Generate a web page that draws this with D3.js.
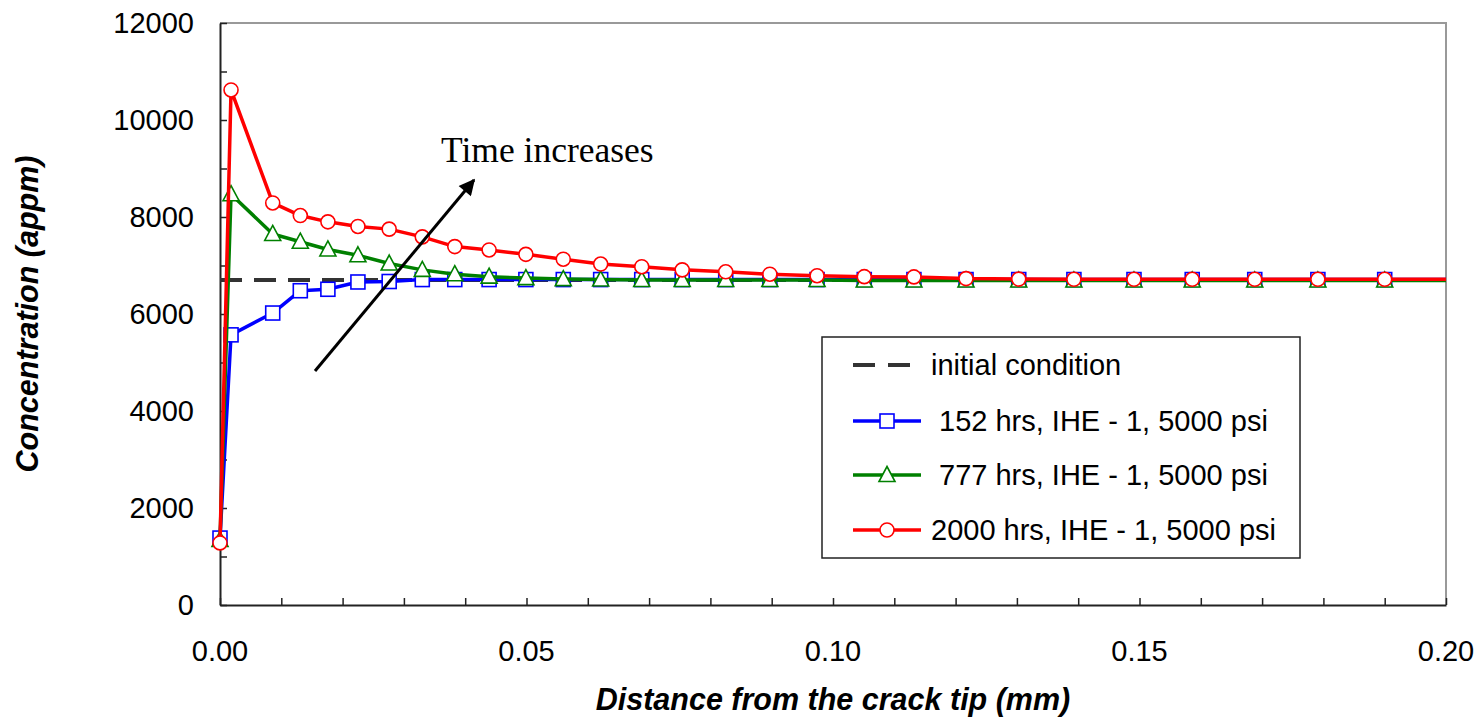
<!doctype html>
<meta charset="utf-8">
<title>Concentration vs distance</title>
<style>
body { margin: 0; background: #fff; }
svg { font-family: "Liberation Sans", Arial, sans-serif; }
.tick-label { font-size: 29px; fill: #000; }
.axis-title { font-size: 30.5px; font-weight: bold; font-style: italic; }
.legend-text { font-size: 29px; }
</style>
<script src="https://cdnjs.cloudflare.com/ajax/libs/d3/7.8.5/d3.min.js"></script>
<body>
<svg id="chart" width="1484" height="717"></svg>
<script>
// distance from crack tip (mm), shared by all three series
var distance = [0, 0.0018, 0.0086, 0.0131, 0.0176, 0.0225, 0.0276, 0.0330, 0.0383, 0.0439,
  0.0499, 0.0560, 0.0621, 0.0688, 0.0754, 0.0825, 0.0897, 0.0974, 0.1051, 0.1132,
  0.1217, 0.1303, 0.1393, 0.1491, 0.1586, 0.1688, 0.1791, 0.1900, 0.2000];

var conc152 = [1380, 5570, 6020, 6480, 6510, 6660, 6670, 6710, 6710, 6710,
  6710, 6710, 6710, 6710, 6710, 6710, 6710, 6710, 6710, 6710,
  6710, 6710, 6710, 6710, 6710, 6710, 6710, 6710, 6710];

var conc777 = [1340, 8470, 7650, 7490, 7330, 7210, 7040, 6910, 6820, 6770,
  6740, 6720, 6710, 6700, 6700, 6700, 6700, 6700, 6690, 6690,
  6690, 6690, 6690, 6690, 6690, 6690, 6690, 6690, 6690];

var conc2000 = [1280, 10620, 8290, 8030, 7900, 7805, 7750, 7590, 7390, 7320,
  7230, 7130, 7030, 6975, 6910, 6870, 6820, 6790, 6770, 6765,
  6730, 6720, 6715, 6715, 6715, 6715, 6715, 6715, 6715];

var initialCondition = 6700;

var seriesNames = ["152 hrs, IHE - 1, 5000 psi", "777 hrs, IHE - 1, 5000 psi", "2000 hrs, IHE - 1, 5000 psi"];
var seriesColors = ["#0000ff", "#008000", "#ff0000"];
var seriesMarkers = ["square", "triangle", "circle"];
var seriesValues = [conc152, conc777, conc2000];

var xTicks = [0, 0.05, 0.10, 0.15, 0.20];
var yTicks = [0, 2000, 4000, 6000, 8000, 10000, 12000];

var svg = d3.select("#chart");
var plotLeft = 220, plotRight = 1446, plotTop = 23, plotBottom = 605;

var x = d3.scaleLinear().domain([0, 0.2]).range([plotLeft, plotRight]);
var y = d3.scaleLinear().domain([0, 12000]).range([plotBottom, plotTop]);

// frame (grey top/right)
svg.append("path")
  .attr("d", "M" + plotLeft + "," + plotTop + "H" + plotRight + "V" + plotBottom)
  .attr("fill", "none").attr("stroke", "#999").attr("stroke-width", 2);

// x axis, ticks pointing up
var xAxis = svg.append("g").attr("transform", "translate(0," + plotBottom + ")")
  .call(d3.axisBottom(x).tickValues(d3.range(0, 21).map(function(i) { return i / 100; }))
    .tickSize(-7).tickSizeOuter(0).tickFormat(""));
xAxis.selectAll(".tick line").attr("stroke", "#222").attr("stroke-width", 1.5);
xAxis.select(".domain").attr("stroke", "#222").attr("stroke-width", 2);

svg.append("g").selectAll("text").data(xTicks).join("text")
  .attr("class", "tick-label")
  .attr("x", function(d) { return x(d); })
  .attr("y", 661)
  .attr("text-anchor", "middle")
  .text(function(d) { return d3.format(".2f")(d); });

// y axis, ticks pointing right
var yAxis = svg.append("g").attr("transform", "translate(" + plotLeft + ",0)")
  .call(d3.axisLeft(y).tickValues(d3.range(0, 13000, 1000))
    .tickSize(-7).tickSizeOuter(0).tickFormat(""));
yAxis.selectAll(".tick line").attr("stroke", "#222").attr("stroke-width", 1.5);
yAxis.select(".domain").attr("stroke", "#222").attr("stroke-width", 2);

svg.append("g").selectAll("text").data(yTicks).join("text")
  .attr("class", "tick-label")
  .attr("x", 194)
  .attr("y", function(d) { return y(d); })
  .attr("dy", "0.36em")
  .attr("text-anchor", "end")
  .text(function(d) { return d; });

// axis titles
svg.append("text").attr("class", "axis-title")
  .attr("x", (plotLeft + plotRight) / 2).attr("y", 710)
  .attr("text-anchor", "middle")
  .text("Distance from the crack tip (mm)");

svg.append("text").attr("class", "axis-title")
  .attr("transform", "translate(38," + ((plotTop + plotBottom) / 2) + ") rotate(-90)")
  .attr("text-anchor", "middle")
  .text("Concentration (appm)");

// initial condition
svg.append("line")
  .attr("x1", x(0)).attr("x2", x(0.2))
  .attr("y1", y(initialCondition)).attr("y2", y(initialCondition))
  .attr("stroke", "#333").attr("stroke-width", 4).attr("stroke-dasharray", "22,12");

function drawMarker(g, type, color, cx, cy) {
  if (type === "square") {
    g.append("rect").attr("x", cx - 7).attr("y", cy - 7).attr("width", 14).attr("height", 14)
      .attr("fill", "#fff").attr("stroke", color).attr("stroke-width", 1.6);
  } else if (type === "triangle") {
    g.append("path").attr("d", "M" + cx + "," + (cy - 8.5) + "L" + (cx + 8) + "," + (cy + 6.5) + "L" + (cx - 8) + "," + (cy + 6.5) + "Z")
      .attr("fill", "#fff").attr("stroke", color).attr("stroke-width", 1.6);
  } else {
    g.append("circle").attr("cx", cx).attr("cy", cy).attr("r", 7)
      .attr("fill", "#fff").attr("stroke", color).attr("stroke-width", 1.6);
  }
}

var line = d3.line().x(function(d) { return x(d[0]); }).y(function(d) { return y(d[1]); });

seriesValues.forEach(function(vals, s) {
  var pts = distance.map(function(d, i) { return [d, vals[i]]; });
  var g = svg.append("g");
  g.append("path").attr("d", line(pts))
    .attr("fill", "none").attr("stroke", seriesColors[s]).attr("stroke-width", 3.5)
    .attr("stroke-linejoin", "round");
  pts.forEach(function(p) {
    if (p[0] < 0.2) drawMarker(g, seriesMarkers[s], seriesColors[s], x(p[0]), y(p[1]));
  });
});

// annotation arrow
svg.append("defs").append("marker")
  .attr("id", "arrowhead").attr("viewBox", "0 0 10 10")
  .attr("refX", 9).attr("refY", 5)
  .attr("markerWidth", 18).attr("markerHeight", 16)
  .attr("markerUnits", "userSpaceOnUse")
  .attr("orient", "auto")
  .append("path").attr("d", "M0,0L10,5L0,10Z").attr("fill", "#000");

svg.append("line")
  .attr("x1", 315).attr("y1", 371).attr("x2", 474).attr("y2", 180)
  .attr("stroke", "#000").attr("stroke-width", 3)
  .attr("marker-end", "url(#arrowhead)");

svg.append("text")
  .attr("x", 441).attr("y", 162)
  .style("font-family", "'Liberation Serif', 'Times New Roman', serif")
  .style("font-size", "35.5px")
  .text("Time increases");

// legend
var lg = svg.append("g");
lg.append("rect").attr("x", 822).attr("y", 337).attr("width", 478).attr("height", 221)
  .attr("fill", "#fff").attr("stroke", "#222").attr("stroke-width", 1.5);

var rowY = [365, 421, 475, 530];
lg.append("line").attr("x1", 853).attr("x2", 921).attr("y1", rowY[0]).attr("y2", rowY[0])
  .attr("stroke", "#333").attr("stroke-width", 4).attr("stroke-dasharray", "22,13");
lg.append("text").attr("class", "legend-text").attr("x", 931).attr("y", rowY[0]).attr("dy", "0.36em")
  .text("initial condition");

seriesNames.forEach(function(name, s) {
  var yy = rowY[s + 1];
  lg.append("line").attr("x1", 853).attr("x2", 921).attr("y1", yy).attr("y2", yy)
    .attr("stroke", seriesColors[s]).attr("stroke-width", 3.5);
  drawMarker(lg, seriesMarkers[s], seriesColors[s], 887, yy);
  lg.append("text").attr("class", "legend-text").attr("x", s === 2 ? 931 : 939).attr("y", yy).attr("dy", "0.36em")
    .text(name);
});
</script>
</body>
